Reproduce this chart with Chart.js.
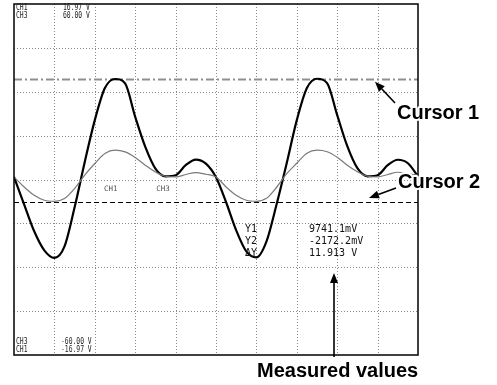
<!DOCTYPE html>
<html>
<head>
<meta charset="utf-8">
<script src="https://cdn.jsdelivr.net/npm/chart.js@4.4.0/dist/chart.umd.min.js"></script>
<style>
  body { margin: 0; background: #fff; }
  #wrap { width: 497px; height: 385px; }
</style>
</head>
<body>
<div id="wrap"><canvas id="scope" width="497" height="385"></canvas></div>
<script>
// time axis in screen divisions, one sample every quarter division
const divisions = [
  0, 0.25, 0.5, 0.75, 1, 1.25, 1.5, 1.75, 2, 2.25, 2.5, 2.75, 3, 3.25, 3.5, 3.75,
  4, 4.25, 4.5, 4.75, 5, 5.25, 5.5, 5.75, 6, 6.25, 6.5, 6.75, 7, 7.25, 7.5, 7.75,
  8, 8.25, 8.5, 8.75, 9, 9.25, 9.5, 9.75, 10
];
// CH1 (thick trace), volts
const ch1Volts = [
  0.25, -2.40, -5.01, -6.85, -7.58, -6.47, -2.69, 1.67, 5.74, 8.84, 9.72, 9.29, 6.06, 3.15, 1.06, 0.31,
  0.41, 1.38, 1.93, 1.54, 0.22, -2.20, -4.92, -6.95, -7.53, -5.98, -2.40, 1.57, 5.74, 8.84, 9.74, 9.32,
  6.22, 3.22, 1.09, 0.31, 0.41, 1.38, 1.91, 1.57, 0.31
];
// CH3 (thin trace), volts
const ch3Volts = [
  0.87, -2.55, -5.39, -7.11, -7.45, -6.52, -3.10, 1.46, 5.46, 8.89, 10.02, 9.44, 7.52, 4.88, 2.59, 1.11,
  0.87, 1.70, 2.38, 1.80, 0.87, -2.55, -5.39, -7.11, -7.45, -6.42, -2.65, 1.97, 5.57, 8.99, 10.02, 9.50,
  7.62, 4.88, 2.65, 1.11, 0.87, 1.70, 2.48, 1.97, 1.46
];
const ch1Range = [-16.97, 16.97];
const ch3Range = [-60, 60];
const cursorY1 = 9.7411;
const cursorY2 = -2.1722;
const headerTop = [["CH1", "16.97 V"], ["CH3", "60.00 V"]];
const headerBottom = [["CH3", "-60.00 V"], ["CH1", "-16.97 V"]];

const ch1Div = ch1Range[1] / 4;

function monoText(ctx, str, x, y, size, sx, color) {
  ctx.save();
  ctx.translate(x, y);
  ctx.scale(sx, 1);
  ctx.font = size + "px 'DejaVu Sans Mono'";
  ctx.fillStyle = color;
  ctx.textBaseline = "middle";
  ctx.fillText(str, 0, 0);
  ctx.restore();
}

function boldLabel(ctx, str, x, y) {
  ctx.save();
  ctx.font = "bold 20px 'Liberation Sans', Arial, sans-serif";
  ctx.textBaseline = "middle";
  ctx.lineJoin = "round";
  ctx.strokeStyle = "#fff";
  ctx.lineWidth = 4;
  ctx.strokeText(str, x, y);
  ctx.fillStyle = "#000";
  ctx.fillText(str, x, y);
  ctx.restore();
}

function arrow(ctx, x0, y0, x1, y1) {
  const ang = Math.atan2(y1 - y0, x1 - x0);
  const c = Math.cos(ang), s = Math.sin(ang);
  const head = 10, half = 4;
  ctx.beginPath();
  ctx.moveTo(x0, y0);
  ctx.lineTo(x1 - c * head, y1 - s * head);
  ctx.stroke();
  ctx.beginPath();
  ctx.moveTo(x1, y1);
  ctx.lineTo(x1 - c * head + s * half, y1 - s * head - c * half);
  ctx.lineTo(x1 - c * head - s * half, y1 - s * head + c * half);
  ctx.closePath();
  ctx.fill();
}

const fmtMv = (v) => (v * 1000).toFixed(1) + "mV";

const scopeOverlay = {
  id: "scopeOverlay",
  beforeDatasetsDraw(chart) {
    const { ctx, chartArea: a, scales } = chart;

    // dotted graticule
    ctx.save();
    ctx.strokeStyle = "#8a8a8a";
    ctx.lineWidth = 1;
    ctx.setLineDash([1, 2]);
    for (let i = 1; i < 10; i++) {
      const px = Math.round(scales.x.getPixelForValue(i)) + 0.5;
      ctx.beginPath();
      ctx.moveTo(px, a.top);
      ctx.lineTo(px, a.bottom);
      ctx.stroke();
    }
    for (let j = -3; j <= 3; j++) {
      const py = Math.round(scales.y.getPixelForValue(j * ch1Div)) + 0.5;
      ctx.beginPath();
      ctx.moveTo(a.left, py);
      ctx.lineTo(a.right, py);
      ctx.stroke();
    }
    ctx.restore();

    const c1 = Math.round(scales.y.getPixelForValue(cursorY1)) + 0.5;
    const c2 = Math.round(scales.y.getPixelForValue(cursorY2)) + 0.5;
    ctx.save();
    ctx.strokeStyle = "#8f8f8f";
    ctx.lineWidth = 2;
    ctx.setLineDash([8, 3, 2, 3]);
    ctx.beginPath();
    ctx.moveTo(a.left, c1);
    ctx.lineTo(a.right, c1);
    ctx.stroke();
    ctx.strokeStyle = "#000";
    ctx.lineWidth = 1;
    ctx.setLineDash([5, 3]);
    ctx.beginPath();
    ctx.moveTo(a.left, c2);
    ctx.lineTo(a.right, c2);
    ctx.stroke();
    ctx.restore();

    // channel markers near the ground level
    const g = scales.y.getPixelForValue(0) + 10;
    monoText(ctx, "CH1", scales.x.getPixelForValue(2.23), g, 7.5, 1, "#555");
    monoText(ctx, "CH3", scales.x.getPixelForValue(3.52), g, 7.5, 1, "#555");
  },
  afterDatasetsDraw(chart) {
    const { ctx, chartArea: a, scales } = chart;
    ctx.save();
    ctx.strokeStyle = "#000";
    ctx.lineWidth = 1.5;
    ctx.strokeRect(a.left, a.top, a.right - a.left, a.bottom - a.top);
    ctx.restore();

    headerTop.forEach(([ch, v], i) => {
      monoText(ctx, ch, a.left + 2, a.top + 4 + i * 8, 8.5, 0.75, "#222");
      monoText(ctx, v, a.left + 49, a.top + 4 + i * 8, 8.5, 0.75, "#222");
    });
    headerBottom.forEach(([ch, v], i) => {
      monoText(ctx, ch, a.left + 2, a.bottom - 13 + i * 7.5, 8.5, 0.75, "#222");
      monoText(ctx, v, a.left + 47, a.bottom - 13 + i * 7.5, 8.5, 0.75, "#222");
    });

    // cursor readout
    const rows = [
      ["Y1", fmtMv(cursorY1)],
      ["Y2", fmtMv(cursorY2)],
      ["ΔY", (cursorY1 - cursorY2).toFixed(3) + " V"]
    ];
    rows.forEach(([k, v], i) => {
      monoText(ctx, k, 245, 229 + i * 12, 10, 1, "#111");
      monoText(ctx, v, 309, 229 + i * 12, 10, 1, "#111");
    });

    const c1 = scales.y.getPixelForValue(cursorY1);
    const c2 = scales.y.getPixelForValue(cursorY2);
    ctx.save();
    ctx.strokeStyle = "#000";
    ctx.fillStyle = "#000";
    ctx.lineWidth = 1.6;
    arrow(ctx, 395, 103, 375, c1 + 3);
    arrow(ctx, 396, 188, 369, c2 - 4);
    arrow(ctx, 334, 357, 334, 273);
    ctx.restore();

    boldLabel(ctx, "Cursor 1", 397, 113);
    boldLabel(ctx, "Cursor 2", 398, 182);
    boldLabel(ctx, "Measured values", 257, 371);
  }
};

new Chart(document.getElementById("scope"), {
  type: "line",
  data: {
    labels: divisions,
    datasets: [
      {
        label: "CH3",
        data: divisions.map((d, i) => ({ x: d, y: ch3Volts[i] })),
        yAxisID: "y3",
        borderColor: "#7a7a7a",
        borderWidth: 1.2,
        pointRadius: 0,
        cubicInterpolationMode: "monotone"
      },
      {
        label: "CH1",
        data: divisions.map((d, i) => ({ x: d, y: ch1Volts[i] })),
        yAxisID: "y",
        borderColor: "#000",
        borderWidth: 2.2,
        pointRadius: 0,
        cubicInterpolationMode: "monotone"
      }
    ]
  },
  options: {
    responsive: false,
    animation: false,
    devicePixelRatio: 1,
    layout: { padding: { left: 14, right: 79, top: 4, bottom: 30 } },
    plugins: { legend: { display: false }, tooltip: { enabled: false } },
    scales: {
      x: {
        type: "linear",
        min: 0,
        max: 10,
        ticks: { display: false, stepSize: 1 },
        grid: { display: false, drawTicks: false },
        border: { display: false }
      },
      y: {
        min: ch1Range[0],
        max: ch1Range[1],
        ticks: { display: false },
        grid: { display: false, drawTicks: false },
        border: { display: false }
      },
      y3: {
        min: ch3Range[0],
        max: ch3Range[1],
        display: false
      }
    }
  },
  plugins: [scopeOverlay]
});
</script>
</body>
</html>
